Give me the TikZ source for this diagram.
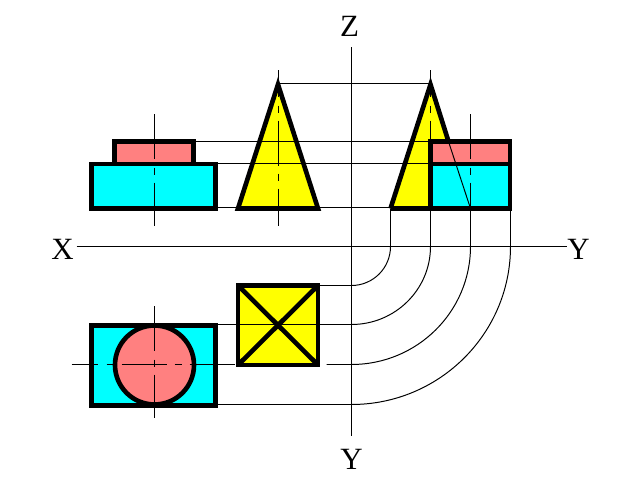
\documentclass[tikz,border=0pt]{standalone}
\usepackage{fontspec}
\setmainfont{Liberation Serif}
\usepackage{xcolor}
\usetikzlibrary{calc}
\definecolor{bodycyan}{HTML}{00FFFF}
\definecolor{bodypink}{HTML}{FF8080}
\definecolor{bodyyellow}{HTML}{FFFF00}
\tikzset{
	thinline/.style={line width=.7pt},
	thickline/.style={line width=3.3pt, line join=miter},
	centerline/.style={line width=.7pt, dash pattern=on 32pt off 5.7pt on 5pt off 5.7pt},
	centerlong/.style={centerline, dash phase=12.8pt},
	axislabel/.style={font=\fontsize{22}{22}\selectfont, inner sep=0pt}
}

\begin{document}
\begin{tikzpicture}[x=.025cm,y=.025cm]

	\useasboundingbox (0,0) rectangle (640,480);
	\fill [white] (0,0) rectangle (640,480);

	\begin{scope}[shift={(.5,-.5)}]

	% axes
	\draw [thinline] (76,234) -- (566,234);
	\draw [thinline] (351,433) -- (351,44);
	\node [axislabel] (labelZ) at (349,454) {Z};
	\node [axislabel] (labelX) at (62,231) {X};
	\node [axislabel] (labelYright) at (578,231) {Y};
	\node [axislabel] (labelYbottom) at (351,21) {Y};

	% front view
	\draw [thickline, fill=bodycyan] (91,272) rectangle (215,316.5);
	\draw [thickline, fill=bodypink] (114,316.5) rectangle (193,339);
	\draw [centerline] (154,366) -- (154,254);

	% side view, cone
	\draw [thickline, fill=bodyyellow] (237.5,272) -- (277.5,396) -- (317.5,272) -- cycle;
	\draw [centerlong] (278,410) -- (278,254);

	% right view
	\fill [bodyyellow] (390,272) -- (430,396) -- (470,272) -- cycle;
	\draw [thickline, fill=bodycyan] (430,272) rectangle (509.5,316.5);
	\draw [thickline, fill=bodypink] (430,316.5) rectangle (509.5,339);
	\draw [thickline] (390,272) -- (430,396) -- (448,339);
	\draw [thinline] (448,339) -- (470,272);
	\draw [thickline] (390,272) -- (430,272);
	\draw [centerlong] (430,410) -- (430,339);
	\draw [centerline] (470,366) -- (470,272);

	% top view, square
	\draw [thickline, fill=bodyyellow] (237.5,115.5) rectangle (317.5,195);
	\draw [thickline] (237.5,115.5) -- (317.5,195);
	\draw [thickline] (237.5,195) -- (317.5,115.5);

	% top view, circle
	\draw [thickline, fill=bodycyan] (91,75) rectangle (215,155);
	\draw [thickline, fill=bodypink] (154,115.5) circle (39.5);
	\draw [centerlong] (71,116) -- (234,116);
	\draw [centerline] (154,174) -- (154,62);

	% projection lines
	\draw [thinline] (278,397) -- (430,397);
	\draw [thinline] (193,339) -- (430,339);
	\draw [thinline] (215,317) -- (430,317);
	\draw [thinline] (215,273) -- (238,273);
	\draw [thinline] (318,273) -- (390,273);
	\draw [thinline] (390,272) -- (390,234) arc (0:-90:39) -- (318,195);
	\draw [thinline] (430,272) -- (430,234) arc [start angle=0, end angle=-90, x radius=79, y radius=78] -- (215,156);
	\draw [thinline] (470,272) -- (470,234) arc [start angle=0, end angle=-90, x radius=119, y radius=118] -- (326,116);
	\draw [thinline] (510,272) -- (510,234) arc [start angle=0, end angle=-90, x radius=159, y radius=158] -- (215,76);

	\end{scope}

\end{tikzpicture}
\end{document}
